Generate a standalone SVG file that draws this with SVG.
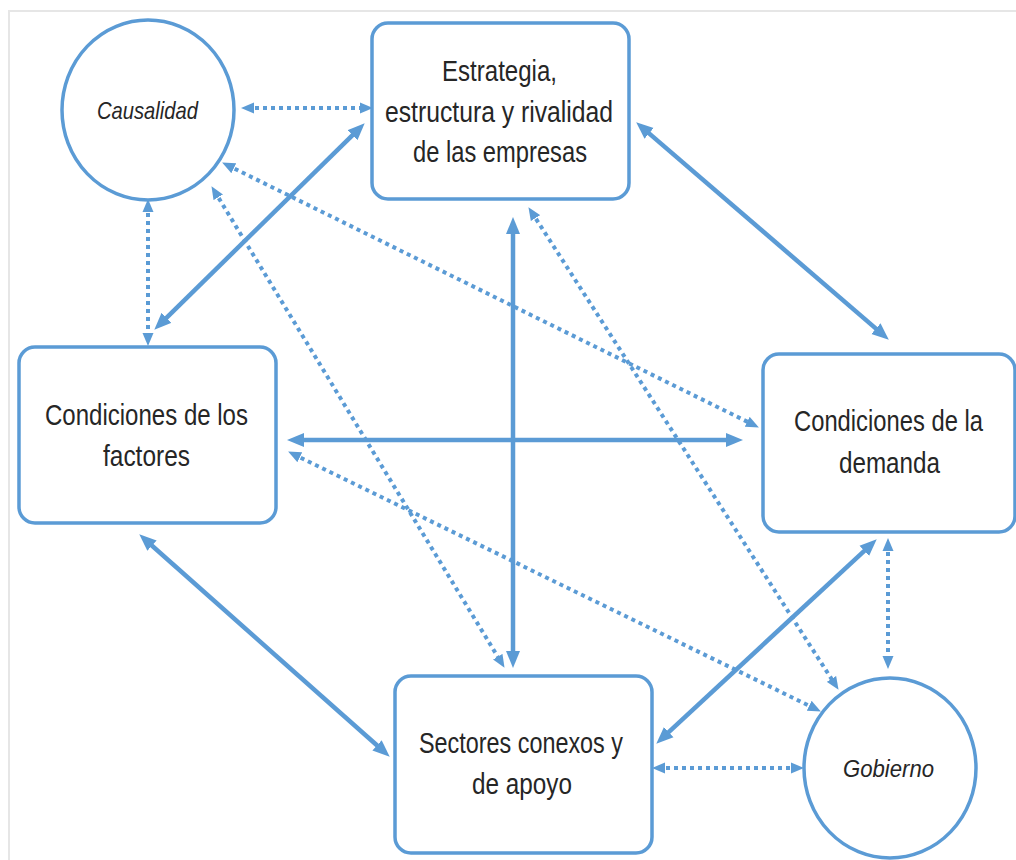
<svg xmlns="http://www.w3.org/2000/svg" width="1016" height="860" viewBox="0 0 1016 860">
<style>
.node{fill:#fff;stroke:#5B9BD5;stroke-width:3.5}
.t{font-family:"Liberation Sans",Arial,sans-serif;font-size:29px;fill:#262626;text-anchor:middle}
.ti{font-family:"Liberation Sans",Arial,sans-serif;font-size:24px;font-style:italic;fill:#262626;text-anchor:middle}
.solid{stroke:#5B9BD5;stroke-width:4.5;fill:none;marker-start:url(#as);marker-end:url(#as)}
.dot{stroke:#5B9BD5;stroke-width:4;fill:none;stroke-dasharray:4 4;marker-start:url(#ad);marker-end:url(#ad)}
</style>
<defs>
<marker id="as" markerUnits="userSpaceOnUse" markerWidth="17" markerHeight="15" viewBox="0 0 17 15" refX="10" refY="7.5" orient="auto-start-reverse"><path d="M0,0.5 L17,7.5 L0,14.5 z" fill="#5B9BD5"/></marker>
<marker id="ad" markerUnits="userSpaceOnUse" markerWidth="13" markerHeight="12" viewBox="0 0 13 12" refX="7" refY="6" orient="auto-start-reverse"><path d="M0,0.5 L13,6 L0,11.5 z" fill="#5B9BD5"/></marker>
</defs>
<rect x="0" y="0" width="1016" height="860" fill="#fff"/>
<rect x="9" y="11" width="1030" height="880" fill="none" stroke="#e6e6e6" stroke-width="2"/>

<g id="connectors">
<line class="dot" x1="247" y1="108" x2="367" y2="108"/>
<line class="dot" x1="148" y1="205" x2="148" y2="340"/>
<line class="solid" x1="359.7" y1="128.2" x2="159.3" y2="324.8"/>
<line class="dot" x1="227.5" y1="165.2" x2="753.5" y2="424.8"/>
<line class="dot" x1="214.6" y1="191.3" x2="501.4" y2="662.7"/>
<line class="solid" x1="513" y1="224" x2="513" y2="661"/>
<line class="dot" x1="531.7" y1="212.2" x2="835.3" y2="684.8"/>
<line class="solid" x1="641.5" y1="126.9" x2="883.5" y2="335.1"/>
<line class="solid" x1="294" y1="440" x2="736" y2="440"/>
<line class="dot" x1="293.5" y1="454.2" x2="815.5" y2="708.8"/>
<line class="solid" x1="144.5" y1="539" x2="384.5" y2="752"/>
<line class="solid" x1="661.4" y1="738.9" x2="871.6" y2="544.1"/>
<line class="dot" x1="658" y1="768" x2="798" y2="768"/>
<line class="dot" x1="888" y1="544" x2="888" y2="663"/>
</g>

<g id="causalidad">
<ellipse class="node" cx="148" cy="110" rx="86" ry="90"/>
<text class="ti" x="147.5" y="119" textLength="101" lengthAdjust="spacingAndGlyphs">Causalidad</text>
</g>

<g id="estrategia">
<rect class="node" x="372" y="23" width="257" height="176" rx="16"/>
<text class="t" x="499.5" y="81" textLength="115" lengthAdjust="spacingAndGlyphs">Estrategia,</text>
<text class="t" x="499" y="122" textLength="228" lengthAdjust="spacingAndGlyphs">estructura y rivalidad</text>
<text class="t" x="500" y="162" textLength="174" lengthAdjust="spacingAndGlyphs">de las empresas</text>
</g>

<g id="factores">
<rect class="node" x="19" y="347" width="257" height="176" rx="16"/>
<text class="t" x="146.5" y="425" textLength="203" lengthAdjust="spacingAndGlyphs">Condiciones de los</text>
<text class="t" x="146.5" y="466" textLength="87" lengthAdjust="spacingAndGlyphs">factores</text>
</g>

<g id="demanda">
<rect class="node" x="763" y="354" width="252" height="178" rx="16"/>
<text class="t" x="888.5" y="431" textLength="189" lengthAdjust="spacingAndGlyphs">Condiciones de la</text>
<text class="t" x="889.5" y="473" textLength="101" lengthAdjust="spacingAndGlyphs">demanda</text>
</g>

<g id="sectores">
<rect class="node" x="395" y="676" width="257" height="177" rx="16"/>
<text class="t" x="521" y="753" textLength="204" lengthAdjust="spacingAndGlyphs">Sectores conexos y</text>
<text class="t" x="522" y="794" textLength="100" lengthAdjust="spacingAndGlyphs">de apoyo</text>
</g>

<g id="gobierno">
<ellipse class="node" cx="890" cy="768" rx="86" ry="90"/>
<text class="ti" x="888.5" y="777" textLength="91" lengthAdjust="spacingAndGlyphs">Gobierno</text>
</g>
</svg>
